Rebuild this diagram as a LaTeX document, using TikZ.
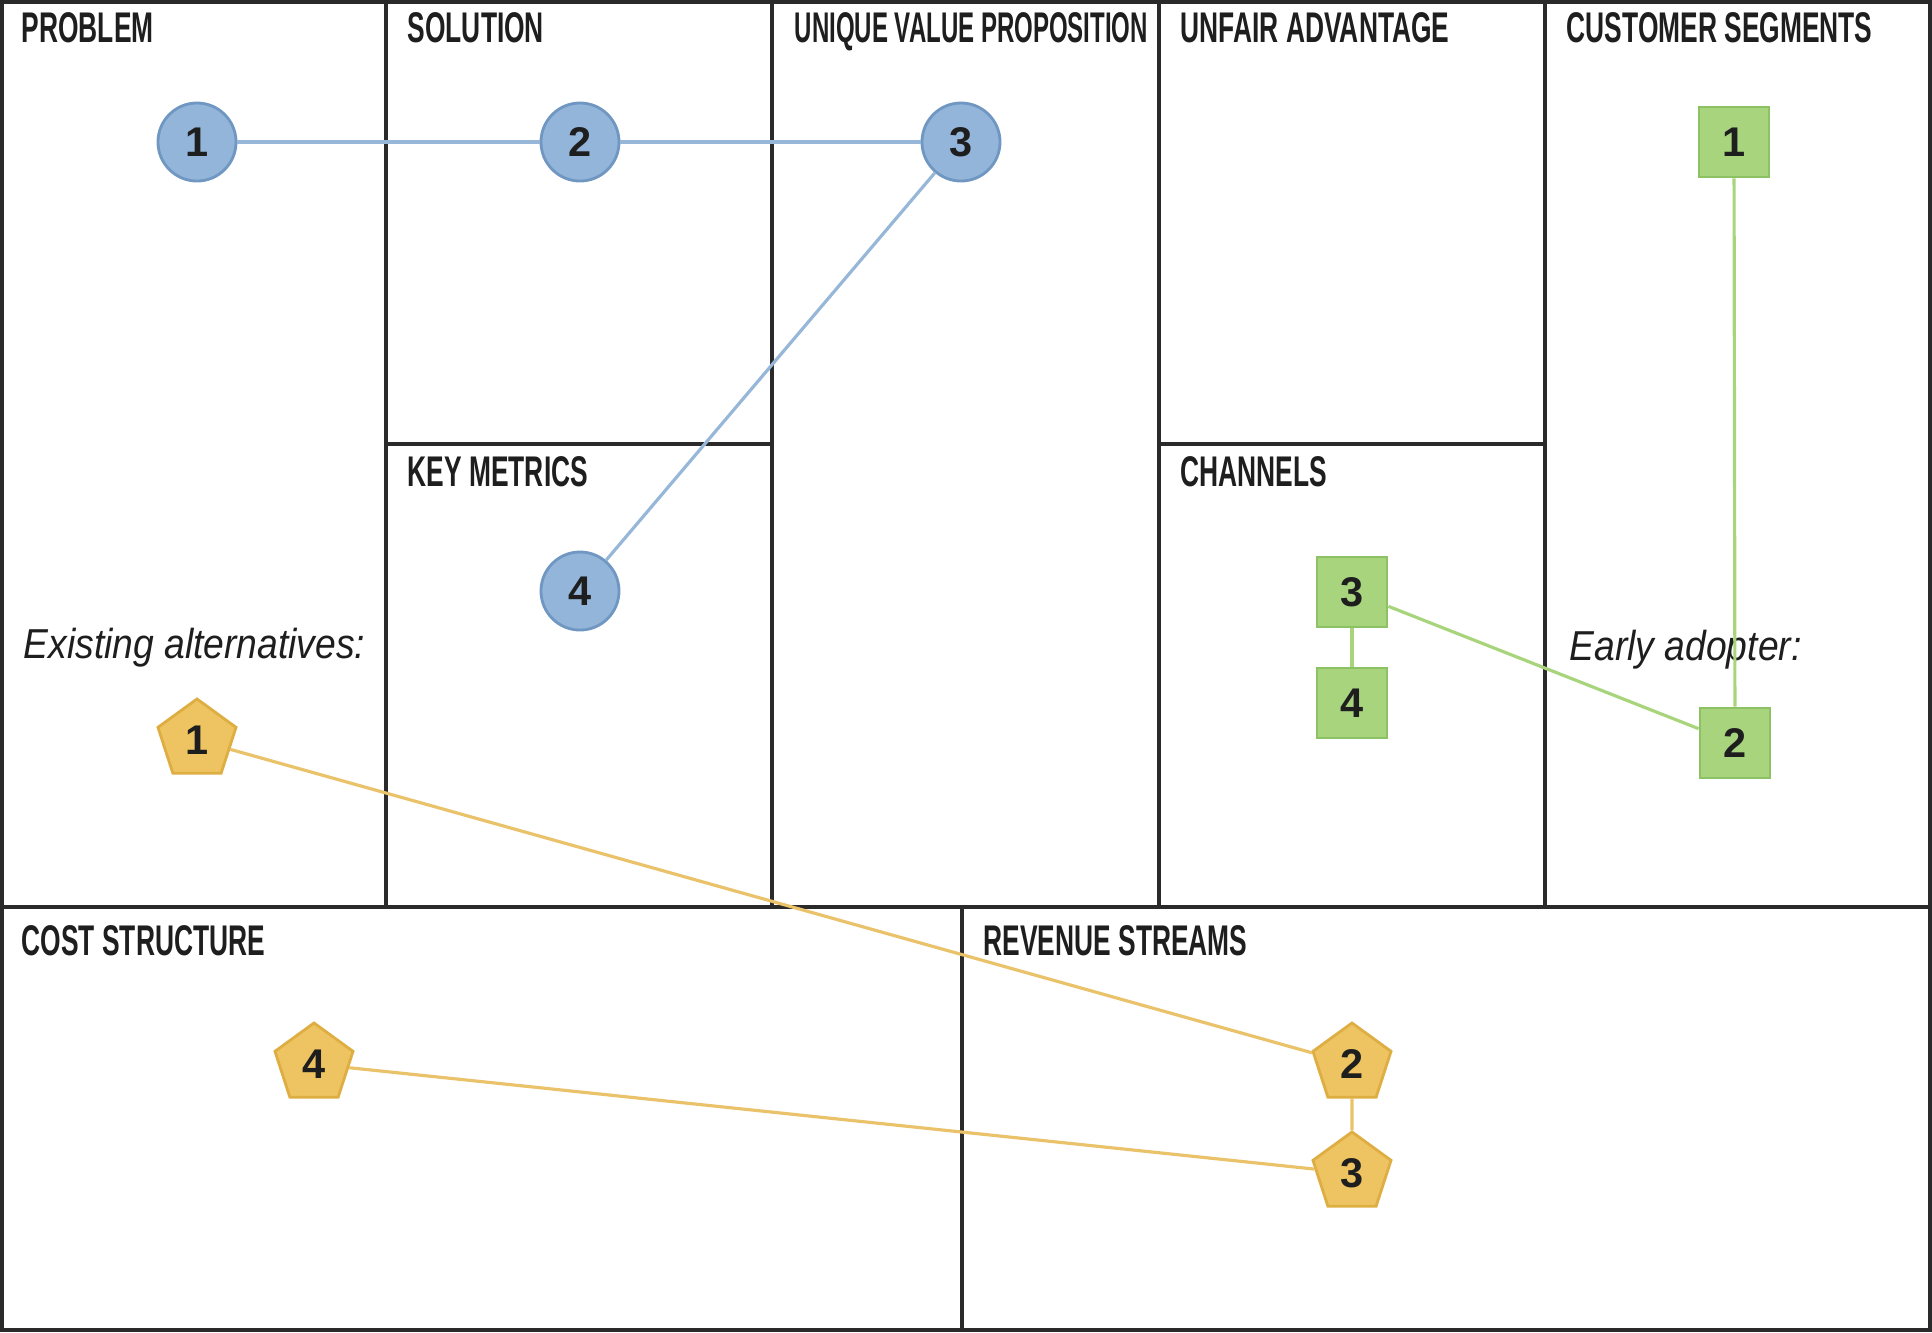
\documentclass[tikz,border=0pt]{standalone}
\usepackage{fontspec}
\setmainfont{Liberation Sans}
\newfontfamily\headfont{Liberation Sans}[FakeStretch=0.615]
\newfontfamily\headfontnarrow{Liberation Sans}[FakeStretch=0.56]
\newfontfamily\noteitfont{Liberation Sans}[FakeStretch=0.89]
\usetikzlibrary{shapes.geometric}
\definecolor{ink}{HTML}{1E1E1E}
\definecolor{gridc}{HTML}{2A2A2A}
\definecolor{bluefill}{HTML}{93B5DA}
\definecolor{bluedraw}{HTML}{6F97C2}
\definecolor{blueline}{HTML}{97B7D8}
\definecolor{greenfill}{HTML}{A9D47E}
\definecolor{greendraw}{HTML}{8CC263}
\definecolor{greenline}{HTML}{A8D57C}
\definecolor{yelfill}{HTML}{EEC463}
\definecolor{yeldraw}{HTML}{DEAE42}
\definecolor{yelline}{HTML}{EAC26A}
\tikzset{
  gridline/.style={draw=gridc, line width=0.9pt},
  heading/.style={anchor=base west, inner sep=0pt, text=ink,
    font=\headfont\bfseries\fontsize{12.2}{14}\selectfont},
  headingnarrow/.style={heading, font=\headfontnarrow\bfseries\fontsize{12.2}{14}\selectfont},
  note/.style={anchor=base west, inner sep=0pt, text=ink,
    font=\noteitfont\itshape\fontsize{11.9}{14}\selectfont},
  numfont/.style={text=ink, font=\bfseries\fontsize{11.8}{14}\selectfont},
  bluecirc/.style={circle, fill=bluefill, draw=bluedraw, line width=0.8pt,
    minimum size=0.78cm, inner sep=0pt, numfont},
  greensq/.style={rectangle, fill=greenfill, draw=greendraw, line width=0.8pt,
    minimum size=0.70cm, inner sep=0pt, numfont},
  yelpent/.style={regular polygon, regular polygon sides=5, fill=yelfill,
    draw=yeldraw, line width=0.8pt, minimum size=0.82cm, inner sep=0pt, numfont},
  blink/.style={draw=blueline, line width=0.9pt},
  glink/.style={draw=greenline, line width=0.9pt},
  ylink/.style={draw=yelline, line width=0.9pt},
}
\begin{document}
\begin{tikzpicture}[x=0.01cm, y=-0.01cm]
\useasboundingbox (0,0) rectangle (1932,1332);
\fill[white] (0,0) rectangle (1932,1332);
% grid
\draw[gridline, line width=1.2pt] (2,2) rectangle (1930,1330);
\draw[gridline] (386,2) -- (386,907);
\draw[gridline] (772,2) -- (772,907);
\draw[gridline] (1159,2) -- (1159,907);
\draw[gridline] (1545,2) -- (1545,907);
\draw[gridline] (2,907) -- (1930,907);
\draw[gridline] (962,907) -- (962,1330);
\draw[gridline] (386,444) -- (772,444);
\draw[gridline] (1159,444) -- (1545,444);
% headings
\node[heading] (hprob) at (21,42) {PROBLEM};
\node[heading] (hsol) at (407,42) {SOLUTION};
\node[headingnarrow] (huvp) at (794,42) {UNIQUE VALUE PROPOSITION};
\node[heading] (hua) at (1180,42) {UNFAIR ADVANTAGE};
\node[heading] (hcs) at (1566,42) {CUSTOMER SEGMENTS};
\node[heading] (hkm) at (407,486) {KEY METRICS};
\node[heading] (hch) at (1180,486) {CHANNELS};
\node[heading] (hcost) at (21,955) {COST STRUCTURE};
\node[heading] (hrev) at (983,955) {REVENUE STREAMS};
% notes
\node[note] (exalt) at (23,658) {Existing alternatives:};
\node[note] (early) at (1569,660) {Early adopter:};
% blue circles
\node[bluecirc] (b1) at (197,142) {1};
\node[bluecirc] (b2) at (580,142) {2};
\node[bluecirc] (b3) at (961,142) {3};
\node[bluecirc] (b4) at (580,591) {4};
% green squares
\node[greensq] (g1) at (1734,142) {1};
\node[greensq] (g2) at (1735,743) {2};
\node[greensq] (g3) at (1352,592) {3};
\node[greensq] (g4) at (1352,703) {4};
% yellow pentagons
\node[yelpent] (y1) at (197,740) {1};
\node[yelpent] (y2) at (1352,1064) {2};
\node[yelpent] (y3) at (1352,1173) {3};
\node[yelpent] (y4) at (314,1064) {4};
% connectors
\draw[blink] (b1) -- (b2);
\draw[blink] (b2) -- (b3);
\draw[blink] (b3) -- (b4);
\draw[glink] (g1) -- (g2);
\draw[glink] (g3) -- (g2);
\draw[glink] (g3) -- (g4);
\draw[ylink] (y1) -- (y2);
\draw[ylink] (y2) -- (y3);
\draw[ylink] (y4) -- (y3);
\end{tikzpicture}
\end{document}
